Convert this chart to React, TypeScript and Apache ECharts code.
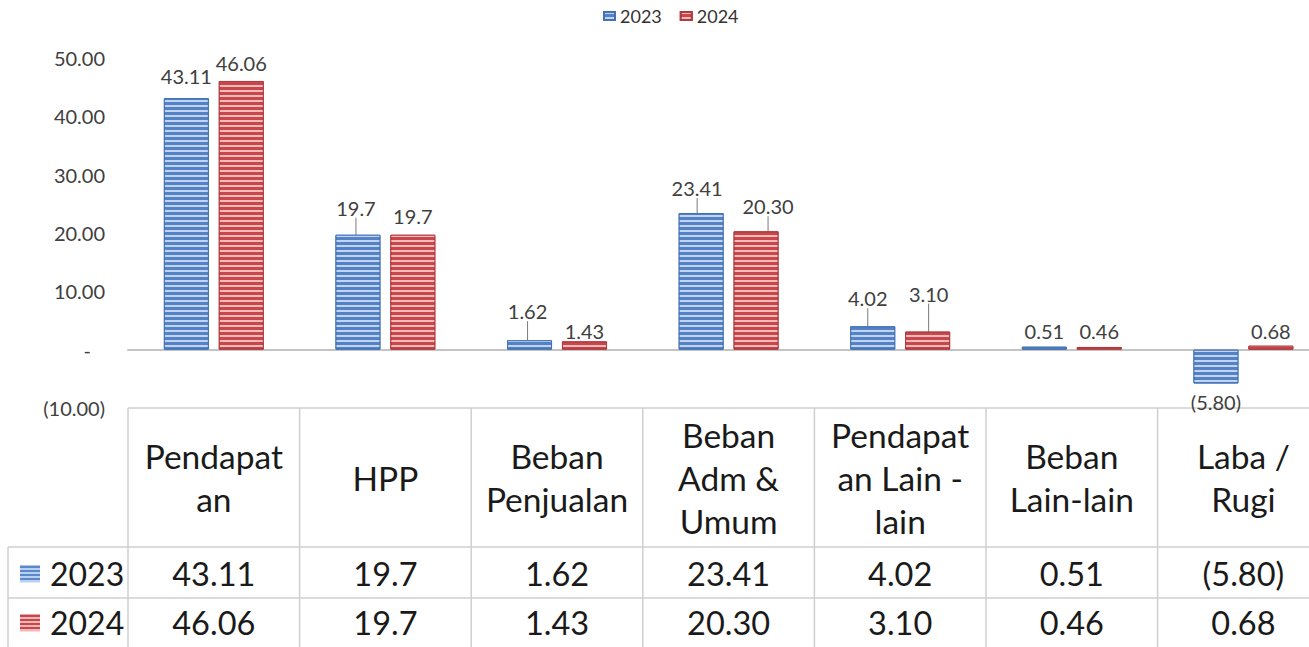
import React, { useEffect, useRef } from 'react';
import * as echarts from 'echarts';

const categories = ['Pendapatan', 'HPP', 'Beban Penjualan', 'Beban Adm & Umum', 'Pendapatan Lain - lain', 'Beban Lain-lain', 'Laba / Rugi'];
const headerLabels = ['Pendapat\nan', 'HPP', 'Beban\nPenjualan', 'Beban\nAdm &\nUmum', 'Pendapat\nan Lain -\nlain', 'Beban\nLain-lain', 'Laba /\nRugi'];
const seriesNames = ['2023', '2024'];
const values2023 = [43.11, 19.7, 1.62, 23.41, 4.02, 0.51, -5.8];
const values2024 = [46.06, 19.7, 1.43, 20.3, 3.1, 0.46, 0.68];
const text2023 = ['43.11', '19.7', '1.62', '23.41', '4.02', '0.51', '(5.80)'];
const text2024 = ['46.06', '19.7', '1.43', '20.30', '3.10', '0.46', '0.68'];
const yMin = -10;
const yMax = 50;
const yInterval = 10;

// label nudges (style only)
const shift2023 = [[0, 0], [-2, -5], [-2, -7], [-4, -3], [-5, -6], [0, 6], [0, -4]];
const shift2024 = [[0, 4], [0, 3], [0, 12], [12, -3], [1, -16], [0, 6], [0, 7]];
const leader2023 = [false, true, true, true, true, false, false];
const leader2024 = [false, false, false, true, true, false, false];

const W = 1309;
const H = 647;
const GRID_LEFT = 128;
const COL_W = 171.6;
const GRID_TOP = 58;
const PLOT_BOTTOM = 408;
const ROW1 = 547;
const ROW2 = 598;
const FONT = 'Lato, "Open Sans", sans-serif';
const BLUE = '#5582c4';
const BLUE_L = 'rgba(205,222,248,0.9)';
const RED = '#c8474b';
const RED_L = 'rgba(250,200,200,0.9)';

function stripes(dark: string, light: string, n: number) {
  const stops: any[] = [];
  for (let i = 0; i < n; i++) {
    const a = i / n;
    const b = (i + 0.5) / n;
    const c = (i + 1) / n;
    stops.push({ offset: a, color: dark }, { offset: b, color: dark }, { offset: b, color: light }, { offset: c, color: light });
  }
  return new echarts.graphic.LinearGradient(0, 0, 0, 1, stops);
}

export default function App() {
  const ref = useRef<HTMLDivElement>(null);
  useEffect(() => {
    const chart = echarts.init(ref.current!, null, { renderer: 'svg' });
    const mkData = (vals: number[], leaders: boolean[]) =>
      vals.map((v, i) => ({
        value: v,
        label: v < 0 ? { position: 'bottom' } : undefined,
        labelLine: { show: leaders[i] },
      }));
    const decal = (c: string) => ({
      symbol: 'rect',
      symbolSize: 1,
      dashArrayX: [[1, 0]],
      dashArrayY: [2, 3],
      rotation: 0,
      color: c,
    });
    const lineColor = '#cfcfcf';
    const graphics: any[] = [];
    graphics.push({ type: 'line', shape: { x1: GRID_LEFT, y1: PLOT_BOTTOM, x2: W, y2: PLOT_BOTTOM }, style: { stroke: lineColor, lineWidth: 1.5 } });
    graphics.push({ type: 'line', shape: { x1: 8, y1: ROW1, x2: W, y2: ROW1 }, style: { stroke: lineColor, lineWidth: 1.5 } });
    graphics.push({ type: 'line', shape: { x1: 8, y1: ROW2, x2: W, y2: ROW2 }, style: { stroke: lineColor, lineWidth: 1.5 } });
    graphics.push({ type: 'line', shape: { x1: 8, y1: ROW1, x2: 8, y2: H }, style: { stroke: lineColor, lineWidth: 1.5 } });
    for (let i = 0; i <= categories.length; i++) {
      const x = GRID_LEFT + i * COL_W;
      graphics.push({ type: 'line', shape: { x1: x, y1: PLOT_BOTTOM, x2: x, y2: H }, style: { stroke: lineColor, lineWidth: 1.5 } });
    }
    const tFont = (size: number) => ({ fontFamily: FONT, fontSize: size, fill: '#1a1a1a' });
    categories.forEach((_, i) => {
      const cx = GRID_LEFT + (i + 0.5) * COL_W;
      graphics.push({ type: 'text', x: cx, y: (PLOT_BOTTOM + ROW1) / 2, style: { text: headerLabels[i], ...tFont(33.5), lineHeight: 43, align: 'center', verticalAlign: 'middle' } });
      graphics.push({ type: 'text', x: cx, y: (ROW1 + ROW2) / 2 + 1, style: { text: text2023[i], ...tFont(32.5), align: 'center', verticalAlign: 'middle' } });
      graphics.push({ type: 'text', x: cx, y: (ROW2 + H) / 2, style: { text: text2024[i], ...tFont(32.5), align: 'center', verticalAlign: 'middle' } });
    });
    const rowYs = [(ROW1 + ROW2) / 2 + 1, (ROW2 + H) / 2];
    const iconFills = [stripes('#5b88c8', '#b9d0f0', 4), stripes('#c9474b', '#f2b8b8', 4)];
    seriesNames.forEach((name, k) => {
      graphics.push({ type: 'rect', shape: { x: 20, y: rowYs[k] - 8, width: 20, height: 17 }, style: { fill: iconFills[k] } });
      graphics.push({ type: 'text', x: 50, y: rowYs[k], style: { text: name, ...tFont(32), align: 'left', verticalAlign: 'middle' } });
    });

    const labelStyle = {
      show: true,
      position: 'top',
      distance: 12,
      fontFamily: FONT,
      fontSize: 20,
      color: '#404040',
    };

    chart.setOption({
      animation: false,
      textStyle: { fontFamily: FONT },
      legend: {
        data: seriesNames,
        left: 598,
        top: 2,
        icon: 'rect',
        itemWidth: 11,
        itemHeight: 8,
        itemGap: 18,
        textStyle: { fontFamily: FONT, fontSize: 18, color: '#333' },
      },
      grid: {
        left: GRID_LEFT,
        top: GRID_TOP,
        width: COL_W * categories.length,
        height: PLOT_BOTTOM - GRID_TOP,
        outerBoundsMode: 'none',
        containLabel: false,
      },
      xAxis: {
        type: 'category',
        data: categories,
        axisLabel: { show: false },
        axisTick: { show: false },
        axisLine: { show: true, onZero: true, lineStyle: { color: '#c4c4c4', width: 2 } },
      },
      yAxis: {
        type: 'value',
        min: yMin,
        max: yMax,
        interval: yInterval,
        splitLine: { show: false },
        axisLine: { show: false },
        axisTick: { show: false },
        axisLabel: {
          margin: 23,
          fontFamily: FONT,
          fontSize: 20,
          color: '#404040',
          formatter: (v: number) => (v === 0 ? '{d|-}' : v < 0 ? `(${Math.abs(v).toFixed(2)})` : v.toFixed(2)),
          rich: { d: { fontFamily: FONT, fontSize: 20, color: '#404040', padding: [0, 14, 0, 0] } },
        },
      },
      series: [
        {
          name: seriesNames[0],
          type: 'bar',
          barWidth: 45,
          barGap: '22%',
          data: mkData(values2023, leader2023),
          itemStyle: { color: BLUE, borderColor: '#4373b4', borderWidth: 1, decal: decal(BLUE_L) },
          label: { ...labelStyle, formatter: (p: any) => text2023[p.dataIndex] },
          labelLine: { lineStyle: { color: '#7a7a7a', width: 1 } },
          labelLayout: (p: any) => ({ dx: shift2023[p.dataIndex][0], dy: shift2023[p.dataIndex][1] }),
        },
        {
          name: seriesNames[1],
          type: 'bar',
          barWidth: 45,
          data: mkData(values2024, leader2024),
          itemStyle: { color: RED, borderColor: '#b03a3e', borderWidth: 1, decal: decal(RED_L) },
          label: { ...labelStyle, formatter: (p: any) => text2024[p.dataIndex] },
          labelLine: { lineStyle: { color: '#7a7a7a', width: 1 } },
          labelLayout: (p: any) => ({ dx: shift2024[p.dataIndex][0], dy: shift2024[p.dataIndex][1] }),
        },
      ],
      graphic: graphics,
    });
    return () => chart.dispose();
  }, []);
  return <div ref={ref} style={{ position: 'fixed', left: 0, top: 0, width: W, height: H, background: '#fff' }} />;
}
